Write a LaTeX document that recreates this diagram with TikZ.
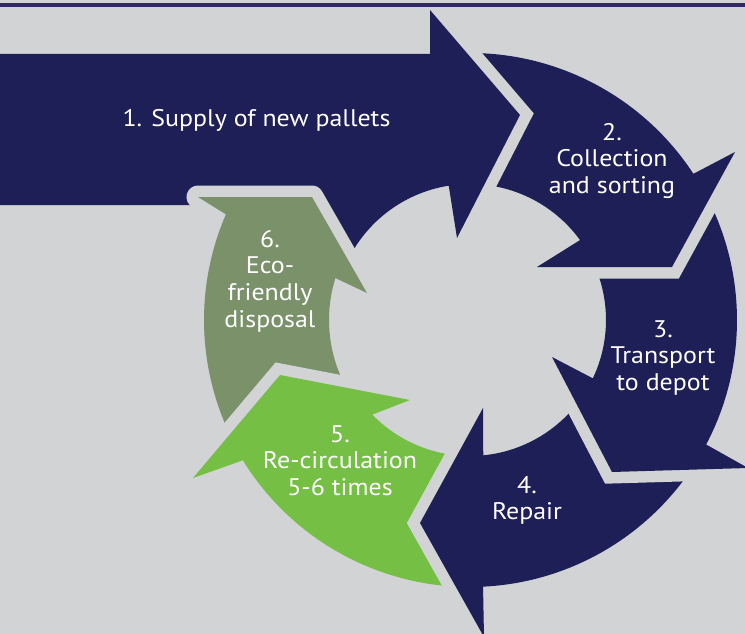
\documentclass[tikz,border=0pt]{standalone}
\usepackage{fontspec}
\setmainfont{PT Sans}[FakeStretch=1.08]
\usetikzlibrary{calc}
\definecolor{bggray}{RGB}{209,211,212}
\definecolor{navyblue}{RGB}{31,31,87}
\definecolor{ecogreen}{RGB}{122,145,106}
\definecolor{leafgreen}{RGB}{116,191,68}
\definecolor{edgeline}{RGB}{52,40,98}
\tikzstyle{navy arrow}=[
        fill = navyblue,
        preaction = {draw = bggray, line width = 23pt}
    ]
\tikzstyle{leaf arrow}=[
        fill = leafgreen,
        preaction = {draw = bggray, line width = 23pt}
    ]
\tikzstyle{eco arrow}=[
        fill = ecogreen,
        preaction = {draw = bggray, line width = 23pt, line join = round}
    ]
\tikzstyle{step label}=[
        text = white,
        align = center,
        anchor = base,
        font = \fontsize{24}{26.7}\selectfont
    ]
\newcommand{\disposalpath}{($(C)+(134:266)$) arc[start angle=134, end angle=203.4, radius=266]
        -- (198,197) -- (312,197) -- (367,293)
        -- ($(C)+(197.3:141)$) arc[start angle=197.3, end angle=134, radius=141] -- cycle}

\begin{document}
\begin{tikzpicture}[x = 1pt, y = -1pt]
        \useasboundingbox[fill = bggray] (0,0) rectangle (745,634);
        \coordinate (C) at (470,320);

        % ring drawn backwards, so each head lies on the next tail
        \path[eco arrow] \disposalpath;
        \path[leaf arrow] ($(C)+(83:267)$) arc[start angle=83, end angle=148.3, radius=267]
            -- (193,478) -- (280,375) -- (410,400)
            -- ($(C)+(135.9:136)$) arc[start angle=135.9, end angle=83, radius=136] -- cycle;
        \path[navy arrow] ($(C)+(24:267)$) arc[start angle=24, end angle=87.2, radius=267]
            -- (484,637) -- (420,523) -- (483,408)
            -- ($(C)+(84.4:136)$) arc[start angle=84.4, end angle=24, radius=136] -- cycle;
        \path[navy arrow] ($(C)+(-38:267)$) arc[start angle=-38, end angle=27.8, radius=267]
            -- (748,468) -- (612,472) -- (552,357)
            -- ($(C)+(25.4:136)$) arc[start angle=25.4, end angle=-38, radius=136] -- cycle;
        \path[navy arrow] ($(C)+(-100:267)$) arc[start angle=-100, end angle=-33.2, radius=267]
            -- (735,152) -- (672,267) -- (537,267)
            -- ($(C)+(-36:136)$) arc[start angle=-36, end angle=-100, radius=136] -- cycle;
        \path[navy arrow] (0,54) -- (430,54) -- (430,10) -- (520,115) -- (457,238)
            -- ($(C)+(-99:136)$) arc[start angle=-99, end angle=-155, radius=136]
            -- (300,205) -- (0,205) -- cycle;
        % head of 6 goes over 1 again
        \begin{scope}
            \clip (150,150) rectangle (420,340);
            \path[eco arrow] \disposalpath;
        \end{scope}
        \fill[edgeline] (0,3.3) rectangle (745,6.7);

        % base = last line
        \node[step label] (supply) at (256.5,127) {1. Supply of new pallets};
        \node[step label] (collect) at (612,193.4) {2.\\Collection\\and sorting};
        \node[step label] (transport) at (663,390.4) {3.\\Transport\\to depot};
        \node[step label] (repair) at (527,519.7) {4.\\Repair};
        \node[step label] (recirc) at (340,495.4) {5.\\Re-circulation\\5-6 times};
        \node[step label] (disposal) at (270,327.1) {6.\\Eco-\\friendly\\disposal};

    \end{tikzpicture}
\end{document}
